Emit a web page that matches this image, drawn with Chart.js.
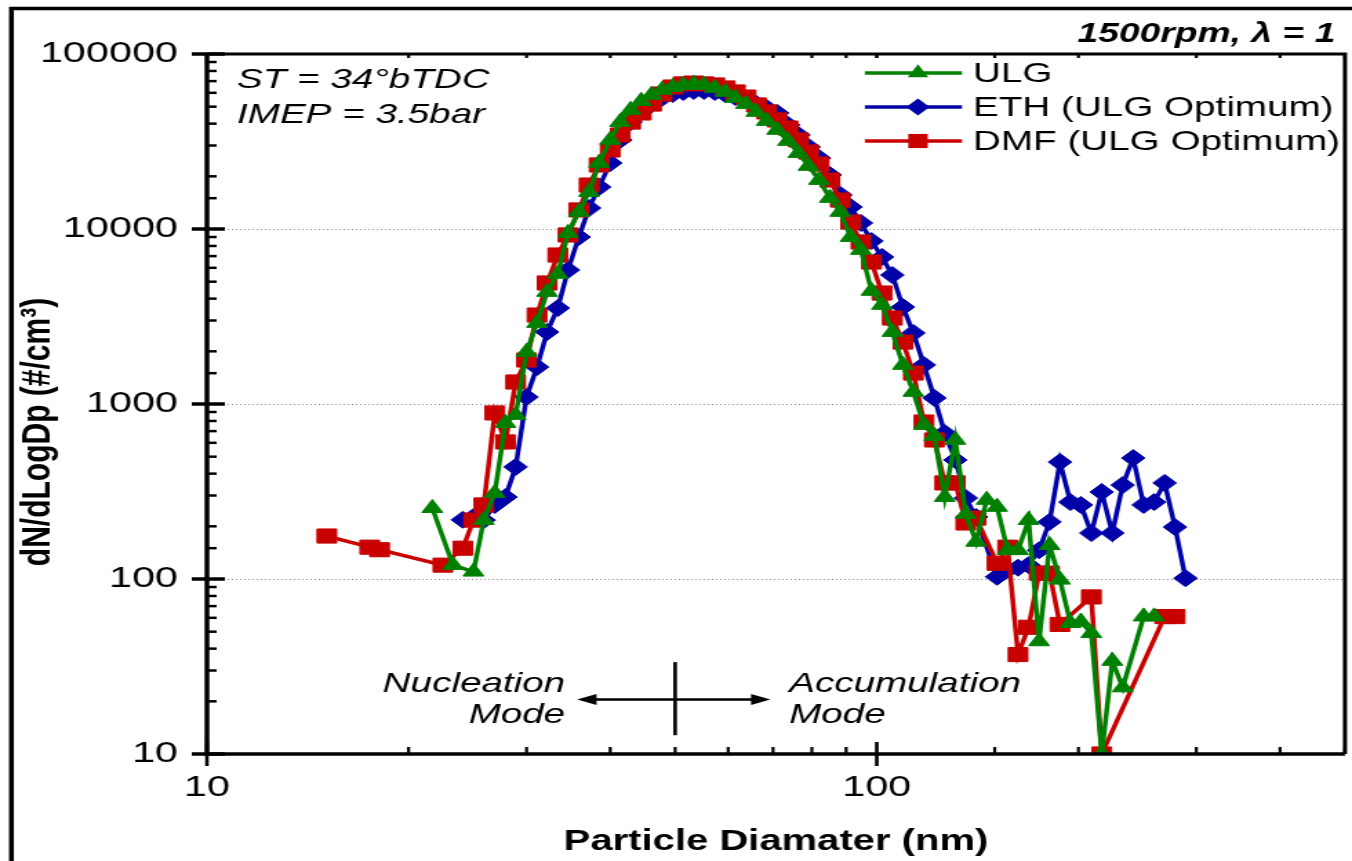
<!DOCTYPE html>
<html>
<head>
<meta charset="utf-8">
<script src="https://cdn.jsdelivr.net/npm/chart.js@4"></script>
<style>
  html, body { margin: 0; padding: 0; background: #fff; overflow: hidden; }
  #psd { display: block; width: 1352px !important; height: 861px !important; }
</style>
</head>
<body>
<canvas id="psd" width="980" height="861" style="width:1352px;height:861px"></canvas>
<script>
// particle size distribution, 1500rpm lambda=1 (SMPS channels, nm)
const ulgDiam = [21.7, 23.3, 25.0, 25.9, 26.9, 27.9, 28.9, 30.0, 31.1, 32.2, 33.4, 34.6, 35.9, 37.2, 38.5, 40.0, 41.4,
  42.9, 44.5, 46.1, 47.8, 49.6, 51.4, 53.3, 55.2, 57.3, 59.4, 61.5, 63.8, 66.1, 68.5, 71.0, 73.7, 76.4, 79.1, 82.0,
  85.1, 88.2, 91.4, 94.7, 98.2, 101.8, 105.5, 109.4, 113.4, 117.6, 121.9, 126.3, 131.0, 135.8, 140.7, 145.9, 151.2,
  156.8, 162.5, 168.5, 174.7, 181.1, 187.7, 194.6, 201.7, 209.1, 216.7, 224.7, 232.9, 250.3, 259.5];
const ulgConc = [254, 120, 110, 217, 310, 778, 865, 1983, 2903, 4365, 5530, 9484, 12510, 16260, 23840, 32280, 40840,
  47860, 53830, 58340, 62230, 64750, 66530, 67450, 66530, 63940, 60670, 56100, 51760, 46650, 41400, 36810, 31840, 27160, 22910, 19050,
  15040, 12510, 8995, 7586, 4426, 3681, 2578, 1671, 1171, 759, 656, 294, 623, 235, 163, 283, 258,
  146, 146, 217, 44, 156, 99, 56, 57, 49, 10, 34, 24, 61, 61];

const ethDiam = [24.1, 25.0, 25.9, 26.9, 27.9, 28.9, 30.0, 31.1, 32.2, 33.4, 34.6, 35.9, 37.2, 38.5, 40.0, 41.4,
  42.9, 44.5, 46.1, 47.8, 49.6, 51.4, 53.3, 55.2, 57.3, 59.4, 61.5, 63.8, 66.1, 68.5, 71.0, 73.7, 76.4, 79.1, 82.0,
  85.1, 88.2, 91.4, 94.7, 98.2, 101.8, 105.5, 109.4, 113.4, 117.6, 121.9, 126.3, 131.0, 135.8, 140.7, 151.2,
  156.8, 162.5, 168.5, 174.7, 181.1, 187.7, 194.6, 201.7, 209.1, 216.7, 224.7, 232.9, 241.4, 250.3, 259.5, 269.0, 278.8, 289.0];
const ethConc = [218, 226, 217, 265, 294, 437, 1096, 1627, 2578, 3535, 5831, 8995, 13180, 17380, 23840, 32280,
  40840, 46650, 51760, 56100, 59060, 60670, 61500, 61500, 60670, 59060, 56760, 54580, 51760, 49100, 46030, 39290, 34440, 29430, 25450,
  20360, 15650, 13360, 10820, 8540, 6918, 5458, 3581, 2545, 1671, 1082, 683, 479, 290, 226, 103,
  113, 116, 120, 146, 212, 466, 275, 265, 183, 314, 183, 344, 491, 265, 275, 354, 198, 101];

const dmfDiam = [15.1, 17.5, 18.1, 22.5, 24.1, 25.0, 25.9, 26.9, 27.9, 28.9, 30.0, 31.1, 32.2, 33.4, 34.6, 35.9, 37.2, 38.5, 40.0, 41.4,
  42.9, 44.5, 46.1, 47.8, 49.6, 51.4, 53.3, 55.2, 57.3, 59.4, 61.5, 63.8, 66.1, 68.5, 71.0, 73.7, 76.4, 79.1, 82.0,
  85.1, 88.2, 91.4, 94.7, 98.2, 101.8, 105.5, 109.4, 113.4, 117.6, 121.9, 126.3, 131.0, 135.8, 140.7, 151.2,
  156.8, 162.5, 168.5, 174.7, 181.1, 187.7, 209.1, 216.7, 269.0, 278.8];
const dmfConc = [176, 152, 147, 120, 150, 217, 265, 889, 607, 1336, 1784, 3224, 4915, 7100, 9247, 12850, 17830, 23220, 28280, 34440,
  40840, 46030, 51760, 59060, 64750, 67450, 68230, 67450, 66530, 63940, 60670, 56760, 51170, 46650, 41980, 37760, 32280, 27540, 23500,
  19050, 14640, 10960, 8430, 6476, 4306, 3099, 2259, 1503, 789, 623, 354, 354, 209, 223, 123,
  152, 37, 53, 108, 108, 55, 79, 10, 61, 61];

const seriesNames = ['ULG', 'ETH (ULG Optimum)', 'DMF (ULG Optimum)'];
const yTitle = 'dN/dLogDp (#/cm\u00B3)';
const xTitle = 'Particle Diamater (nm)';

const GREEN = '#008000';
const BLUE = '#0000a8';
const RED = '#c80000';
const FONT = '"Liberation Sans", Arial, sans-serif';
const PLOT_RIGHT_GAP = 5.1;

function pairs(xs, ys) {
  return xs.map((d, i) => ({ x: d, y: ys[i] }));
}

function isDecade(v) {
  const l = Math.log10(v);
  return Math.abs(l - Math.round(l)) < 1e-9;
}

function marker(ctx, style, r, x, y, color) {
  ctx.save();
  ctx.fillStyle = color;
  ctx.beginPath();
  if (style === 'triangle') {
    ctx.moveTo(x, y - r);
    ctx.lineTo(x + 0.866 * r, y + 0.5 * r);
    ctx.lineTo(x - 0.866 * r, y + 0.5 * r);
  } else if (style === 'rect') {
    const h = Math.SQRT1_2 * r;
    ctx.rect(x - h, y - h, 2 * h, 2 * h);
  } else {
    ctx.moveTo(x, y - r);
    ctx.lineTo(x + r, y);
    ctx.lineTo(x, y + r);
    ctx.lineTo(x - r, y);
  }
  ctx.closePath();
  ctx.fill();
  ctx.restore();
}

const decor = {
  id: 'decor',
  afterLayout(chart) {
    // stretch plot area to the right edge the figure uses
    const a = chart.chartArea;
    const xs = chart.scales.x;
    const want = chart.width - PLOT_RIGHT_GAP;
    if (Math.abs(a.right - want) > 0.01) {
      a.right = want;
      a.width = want - a.left;
      xs.right = want;
      xs.width = want - xs.left;
      xs.configure();
    }
  },
  beforeDatasetsDraw(chart) {
    const ctx = chart.ctx;
    const a = chart.chartArea;
    const ys = chart.scales.y;
    ctx.save();
    ctx.strokeStyle = '#8c8c8c';
    ctx.lineWidth = 1;
    ctx.setLineDash([1, 2]);
    ys.ticks.forEach(t => {
      if (!isDecade(t.value) || t.value === ys.min || t.value === ys.max) return;
      const py = Math.round(ys.getPixelForValue(t.value)) + 0.5;
      ctx.beginPath();
      ctx.moveTo(a.left, py);
      ctx.lineTo(a.right, py);
      ctx.stroke();
    });
    ctx.restore();
  },
  afterDatasetsDraw(chart) {
    const ctx = chart.ctx;
    const a = chart.chartArea;
    const xs = chart.scales.x;
    const ys = chart.scales.y;
    ctx.save();
    ctx.strokeStyle = '#000';
    ctx.fillStyle = '#000';

    // outer frame
    ctx.lineWidth = 3.5;
    ctx.beginPath();
    ctx.moveTo(8.3, 861);
    ctx.lineTo(8.3, 8.5);
    ctx.lineTo(980, 8.5);
    ctx.stroke();

    // plot box
    ctx.lineWidth = 3;
    ctx.beginPath();
    ctx.moveTo(a.left, a.top);
    ctx.lineTo(a.right, a.top);
    ctx.lineTo(a.right, a.bottom);
    ctx.stroke();
    ctx.lineWidth = 3.5;
    ctx.beginPath();
    ctx.moveTo(a.left, a.top);
    ctx.lineTo(a.left, a.bottom);
    ctx.lineTo(a.right, a.bottom);
    ctx.stroke();

    // y ticks
    ys.ticks.forEach(t => {
      const py = ys.getPixelForValue(t.value);
      ctx.beginPath();
      if (isDecade(t.value)) {
        ctx.lineWidth = 3.5;
        ctx.moveTo(a.left - 11, py);
        ctx.lineTo(a.left + 13, py);
      } else {
        ctx.lineWidth = 2.5;
        ctx.moveTo(a.left, py);
        ctx.lineTo(a.left + 7, py);
      }
      ctx.stroke();
    });

    // x ticks, bottom and top
    xs.ticks.forEach(t => {
      const px = xs.getPixelForValue(t.value);
      ctx.beginPath();
      if (isDecade(t.value)) {
        ctx.lineWidth = 2.6;
        ctx.moveTo(px, a.bottom - 12);
        ctx.lineTo(px, a.bottom + 12);
      } else {
        ctx.lineWidth = 2.2;
        ctx.moveTo(px, a.bottom - 7);
        ctx.lineTo(px, a.bottom);
      }
      ctx.moveTo(px, a.top);
      ctx.lineTo(px, a.top + 4);
      ctx.stroke();
    });

    // axis titles
    ctx.font = 'bold 29px ' + FONT;
    ctx.textAlign = 'center';
    ctx.textBaseline = 'alphabetic';
    ctx.fillText(xTitle, (a.left + a.right) / 2, 850);
    ctx.save();
    ctx.translate(27.5, 432);
    ctx.rotate(-Math.PI / 2);
    ctx.font = 'bold 30px ' + FONT;
    ctx.textBaseline = 'middle';
    ctx.fillText(yTitle, 0, 0);
    ctx.restore();

    // condition labels
    ctx.textBaseline = 'alphabetic';
    ctx.textAlign = 'right';
    ctx.font = 'bold italic 27px ' + FONT;
    ctx.fillText('1500rpm, \u03BB = 1', a.right - 7, 42);
    ctx.textAlign = 'left';
    ctx.font = 'italic 28px ' + FONT;
    ctx.fillText('ST = 34\u00B0bTDC', a.left + 21.8, 88);
    ctx.fillText('IMEP = 3.5bar', a.left + 21.8, 123);

    // legend
    const rows = [
      { name: seriesNames[0], color: GREEN, style: 'triangle', r: 8.7, y: 73 },
      { name: seriesNames[1], color: BLUE, style: 'rectRot', r: 8.5, y: 107 },
      { name: seriesNames[2], color: RED, style: 'rect', r: 10, y: 141 }
    ];
    ctx.font = '28px ' + FONT;
    ctx.textBaseline = 'middle';
    rows.forEach(row => {
      ctx.strokeStyle = row.color;
      ctx.lineWidth = 3.5;
      ctx.beginPath();
      ctx.moveTo(a.right - 348, row.y);
      ctx.lineTo(a.right - 277.6, row.y);
      ctx.stroke();
      marker(ctx, row.style, row.r, a.right - 309.5, row.y, row.color);
      ctx.fillStyle = '#000';
      ctx.fillText(row.name, a.right - 269.6, row.y + 1);
    });

    // nucleation / accumulation divider
    const x50 = xs.getPixelForValue(50);
    const yArr = ys.getPixelForValue(20.5);
    ctx.strokeStyle = '#000';
    ctx.fillStyle = '#000';
    ctx.lineWidth = 2.6;
    ctx.beginPath();
    ctx.moveTo(x50, ys.getPixelForValue(33.5));
    ctx.lineTo(x50, ys.getPixelForValue(12.8));
    ctx.stroke();
    ctx.lineWidth = 2.4;
    ctx.beginPath();
    ctx.moveTo(x50 - 60, yArr);
    ctx.lineTo(x50 + 58, yArr);
    ctx.stroke();
    ctx.beginPath();
    ctx.moveTo(x50 - 71, yArr);
    ctx.lineTo(x50 - 57, yArr - 5.5);
    ctx.lineTo(x50 - 57, yArr + 5.5);
    ctx.closePath();
    ctx.fill();
    ctx.beginPath();
    ctx.moveTo(x50 + 69, yArr);
    ctx.lineTo(x50 + 55, yArr - 5.5);
    ctx.lineTo(x50 + 55, yArr + 5.5);
    ctx.closePath();
    ctx.fill();

    ctx.font = 'italic 28px ' + FONT;
    ctx.textBaseline = 'alphabetic';
    ctx.textAlign = 'right';
    ctx.fillText('Nucleation', x50 - 79.7, yArr - 7);
    ctx.fillText('Mode', x50 - 79.7, yArr + 24);
    ctx.textAlign = 'left';
    ctx.fillText('Accumulation', x50 + 82.6, yArr - 7);
    ctx.fillText('Mode', x50 + 82.6, yArr + 24);

    ctx.restore();
  }
};

const tickLabel = function (value) {
  return isDecade(value) ? String(Math.round(value)) : '';
};

new Chart(document.getElementById('psd'), {
  type: 'line',
  data: {
    datasets: [
      {
        label: seriesNames[0],
        data: pairs(ulgDiam, ulgConc),
        borderColor: GREEN,
        backgroundColor: GREEN,
        pointStyle: 'triangle',
        pointRadius: 8.7,
        order: 0
      },
      {
        label: seriesNames[1],
        data: pairs(ethDiam, ethConc),
        borderColor: BLUE,
        backgroundColor: BLUE,
        pointStyle: 'rectRot',
        pointRadius: 8.5,
        order: 2
      },
      {
        label: seriesNames[2],
        data: pairs(dmfDiam, dmfConc),
        borderColor: RED,
        backgroundColor: RED,
        pointStyle: 'rect',
        pointRadius: 10,
        order: 1
      }
    ]
  },
  options: {
    responsive: false,
    animation: false,
    devicePixelRatio: 1,
    layout: { padding: { top: 54, right: PLOT_RIGHT_GAP, left: 0, bottom: 0 } },
    elements: {
      line: { borderWidth: 3.5, tension: 0, fill: false },
      point: { borderWidth: 1, hoverRadius: 10 }
    },
    plugins: {
      legend: { display: false },
      tooltip: { enabled: false }
    },
    scales: {
      x: {
        type: 'logarithmic',
        position: 'bottom',
        min: 10,
        max: 500,
        grid: { display: false, drawTicks: false },
        border: { display: false },
        afterFit: s => {
          s.height = 107;
          s.paddingLeft = 0;
          s.paddingRight = 0;
        },
        ticks: {
          autoSkip: false,
          maxRotation: 0,
          padding: 16,
          color: '#000',
          font: { family: FONT, size: 30 },
          callback: tickLabel
        }
      },
      y: {
        type: 'logarithmic',
        position: 'left',
        min: 10,
        max: 100000,
        grid: { display: false, drawTicks: false },
        border: { display: false },
        afterFit: s => { s.width = 150; },
        ticks: {
          autoSkip: false,
          padding: 21,
          color: '#000',
          font: { family: FONT, size: 30 },
          callback: tickLabel
        }
      }
    }
  },
  plugins: [decor]
});
</script>
</body>
</html>
